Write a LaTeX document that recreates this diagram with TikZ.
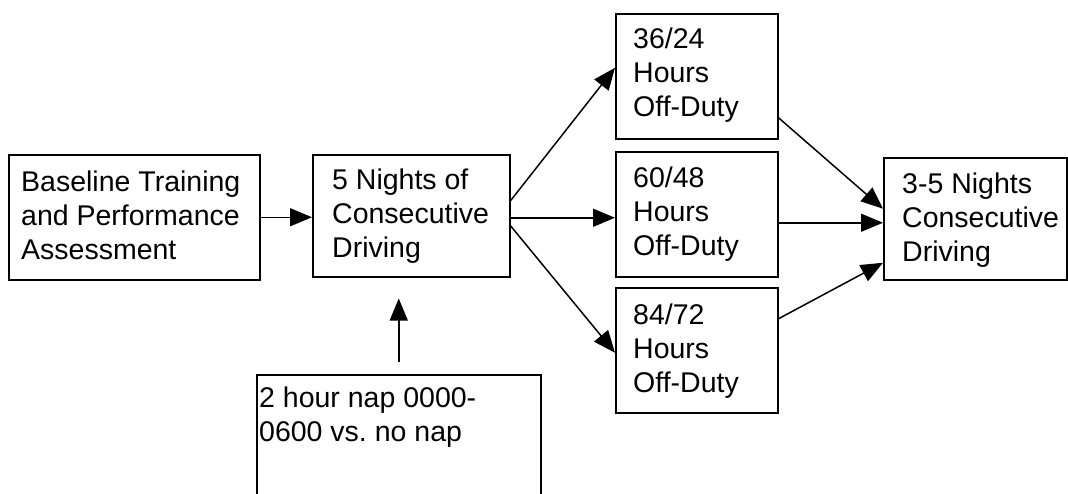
\documentclass[tikz,border=0pt]{standalone}
\usepackage{fontspec}
\setmainfont{Liberation Sans}
\usetikzlibrary{arrows.meta,calc}
\frenchspacing
\begin{document}
\begin{tikzpicture}[x=1pt,y=-1pt,
  box/.style={draw, line width=1.5pt, inner sep=0pt, anchor=north west},
  txt/.style={anchor=north west, inner sep=0pt, align=left, font=\fontsize{28.5}{33.8}\selectfont},
  arr/.style={line width=1.5pt, -{Triangle[length=22pt,width=18pt]}}]
\useasboundingbox (0,0) rectangle (1068,493);
\clip (0,0) rectangle (1068,493);

% boxes
\node[box, minimum width=251pt, minimum height=125pt] (A) at (8,154) {};
\node[box, minimum width=197pt, minimum height=122pt] (B) at (312,154) {};
\node[box, minimum width=162pt, minimum height=125pt] (C1) at (615,13) {};
\node[box, minimum width=162pt, minimum height=125pt] (C2) at (615,151) {};
\node[box, minimum width=162pt, minimum height=125pt] (C3) at (615,287) {};
\node[box, minimum width=183pt, minimum height=122pt] (D) at (883,157) {};
\node[box, minimum width=284pt, minimum height=150pt] (nap) at (256,374) {};

% labels
\node[txt] (Atxt) at (21,171) {Baseline Training\\and Performance\\Assessment};
\node[txt] (Btxt) at (332,169) {5 Nights of\\Consecutive\\Driving};
\node[txt] (C1txt) at (633,28) {36/24\\Hours\\Off-Duty};
\node[txt] (C2txt) at (633,167) {60/48\\Hours\\Off-Duty};
\node[txt] (C3txt) at (633,304) {84/72\\Hours\\Off-Duty};
\node[txt] (Dtxt) at (902,173) {3-5 Nights\\Consecutive\\Driving};
\node[txt] (naptxt) at (259,387) {2 hour nap 0000-\\0600 vs. no nap};

% connectors
\draw[arr] (A.east) -- (A.east -| B.west);
\draw[arr] ([yshift=15pt]B.east) -- ([yshift=8.5pt]C1.west);
\draw[arr] ([yshift=-2pt]B.east) -- ([yshift=-2pt]B.east -| C2.west);
\draw[arr] ([yshift=-10pt]B.east) -- ([yshift=-2.5pt]C3.west);
\draw[arr] ([yshift=-41.5pt]C1.east) -- ([yshift=10pt]D.west);
\draw[arr] ([yshift=-4pt]D.west -| C2.east) -- ([yshift=-4pt]D.west);
\draw[arr] ([yshift=31.5pt]C3.east) -- ([yshift=-44pt]D.west);
\draw[arr] ([yshift=12pt]nap.north) -- ([yshift=-21pt]B.south -| nap.north);
\end{tikzpicture}
\end{document}
